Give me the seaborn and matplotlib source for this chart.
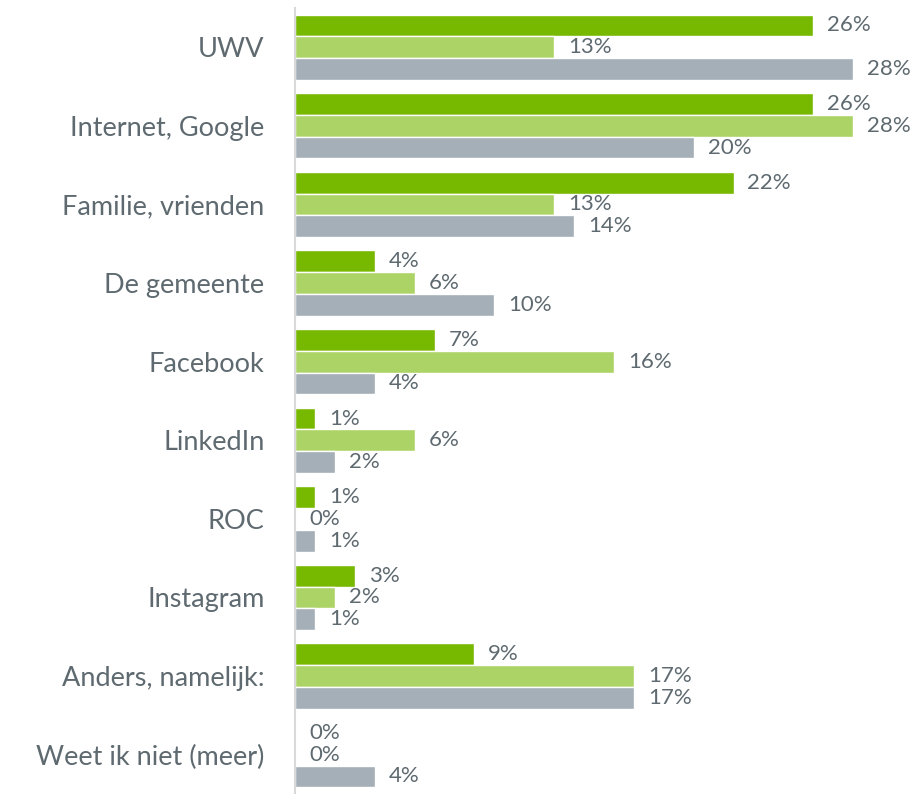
import numpy as np
import pandas as pd
import matplotlib
matplotlib.use('Agg')
import matplotlib.pyplot as plt
import seaborn as sns

# ─── Data ────────────────────────────────────────────────────────────────────
categories = ['UWV', 'Internet, Google', 'Familie, vrienden', 'De gemeente',
              'Facebook', 'LinkedIn', 'ROC', 'Instagram', 'Anders, namelijk:',
              'Weet ik niet (meer)']
series = ['Reeks 1', 'Reeks 2', 'Reeks 3']
reeks_1 = [26, 26, 22, 4, 7, 1, 1, 3, 9, 0]
reeks_2 = [13, 28, 13, 6, 16, 6, 0, 2, 17, 0]
reeks_3 = [28, 20, 14, 10, 4, 2, 1, 1, 17, 4]
colors = ['#77b800', '#acd366', '#a4afb8']

df = pd.DataFrame({'categorie': categories * 3,
                   'reeks': np.repeat(series, len(categories)),
                   'waarde': reeks_1 + reeks_2 + reeks_3})

TEXT_COLOR = '#5e6a70'
AXIS_COLOR = '#d9d9d9'

sns.set_style('white')
plt.rcParams['font.family'] = ['Lato', 'DejaVu Sans']

fig = plt.figure(figsize=(9.17, 7.94), dpi=100)
ax = fig.add_axes([0.3217, 0.0, 0.6783, 0.990])

sns.barplot(data=df, x='waarde', y='categorie', hue='reeks', orient='h',
            palette=colors, width=0.83, saturation=1, legend=False, ax=ax)

for cont in ax.containers:
    ax.bar_label(cont, labels=[f'{v:.0f}%' for v in cont.datavalues],
                 padding=10, fontsize=16, color=TEXT_COLOR)

ax.set_xlim(0, 31.2)
ax.set_ylim(len(categories) - 0.5, -0.5)
ax.set_xlabel('')
ax.set_ylabel('')
ax.set_xticks([])

ax.tick_params(axis='y', which='major', length=0, pad=22, labelsize=19.5,
               labelcolor=TEXT_COLOR)
ax.set_yticks(np.arange(-0.5, len(categories), 1), minor=True)
ax.tick_params(axis='y', which='minor', length=8, width=1.5, color=AXIS_COLOR)

for side in ['top', 'right', 'bottom']:
    ax.spines[side].set_visible(False)
ax.spines['left'].set_color(AXIS_COLOR)
ax.spines['left'].set_linewidth(1.5)

fig.savefig('out.png', dpi=100)
